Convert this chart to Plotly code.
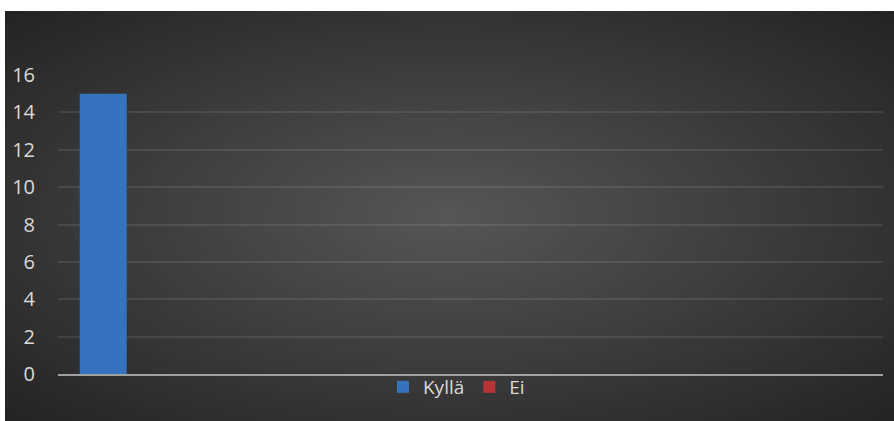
import plotly.graph_objects as go

# Data
series_names = ["Kyllä", "Ei"]
series_values = [[15], [0]]
category_pos = [0.5]
series_colors = ["#3573bf", "#b83535"]
y_ticks = [0, 2, 4, 6, 8, 10, 12, 14, 16]

W, H = 894, 421
ml, mr, mt, mb = 58, 11, 75, 47
pw, ph = W - ml - mr, H - mt - mb

def px_to_paper_x(px):
    return (px - ml) / pw

def px_to_paper_y(py):
    return (H - mb - py) / ph

fig = go.Figure()
for name, vals, col in zip(series_names, series_values, series_colors):
    fig.add_trace(go.Bar(x=category_pos, y=vals, name=name, marker=dict(color=col, line=dict(width=0))))

# Background: dark panel with radial gradient (stepped ellipses reaching the corners)
x0, x1 = px_to_paper_x(5), px_to_paper_x(894)
y0, y1 = px_to_paper_y(421), px_to_paper_y(11)
dark = (0x23, 0x23, 0x23)
light = (0x56, 0x56, 0x56)
RMAX = 1.42

def col_at(r):
    t = max(0.0, min(1.0, 1 - r / RMAX))
    c = tuple(int(round(d + (l - d) * t)) for d, l in zip(dark, light))
    return "rgb(%d,%d,%d)" % c

shapes = []
cx, cy = (x0 + x1) / 2, (y0 + y1) / 2
hx, hy = (x1 - x0) / 2, (y1 - y0) / 2
N = 70
for i in range(N):
    r = RMAX * (1.0 - i / N)
    shapes.append(dict(type="circle", xref="paper", yref="paper",
                       x0=cx - hx * r, x1=cx + hx * r, y0=cy - hy * r, y1=cy + hy * r,
                       fillcolor=col_at(r - RMAX / N / 2), line=dict(width=0), layer="below"))
# white page margin (top and left) above the gradient
shapes.append(dict(type="rect", xref="paper", yref="paper", x0=-1, x1=2, y0=y1, y1=3,
                   fillcolor="white", line=dict(width=0), layer="below"))
shapes.append(dict(type="rect", xref="paper", yref="paper", x0=-1, x1=x0, y0=-2, y1=3,
                   fillcolor="white", line=dict(width=0), layer="below"))

fig.update_layout(
    width=W, height=H,
    margin=dict(l=ml, r=mr, t=mt, b=mb, pad=0),
    paper_bgcolor="white",
    plot_bgcolor="rgba(0,0,0,0)",
    barmode="group",
    bargap=0.316,
    bargroupgap=0,
    shapes=shapes,
    showlegend=True,
    legend=dict(orientation="h", x=0.483, xanchor="center", y=px_to_paper_y(387), yanchor="middle",
                font=dict(family="Open Sans, sans-serif", size=19, color="#d9d9d9"),
                bgcolor="rgba(0,0,0,0)", itemwidth=30, traceorder="normal"),
    xaxis=dict(range=[0, 6], showticklabels=False, showgrid=False, zeroline=False,
               showline=True, linecolor="#a0a0a0", linewidth=2, ticks=""),
    yaxis=dict(range=[0, 16], tickvals=y_ticks, showgrid=True, gridcolor="rgba(255,255,255,0.09)", gridwidth=1.5,
               zeroline=False, showline=False, ticks="", ticklabelstandoff=22,
               tickfont=dict(family="Open Sans, sans-serif", size=20, color="#d9d9d9")),
    font=dict(family="Open Sans, sans-serif"),
)

fig.write_html("out.html")
